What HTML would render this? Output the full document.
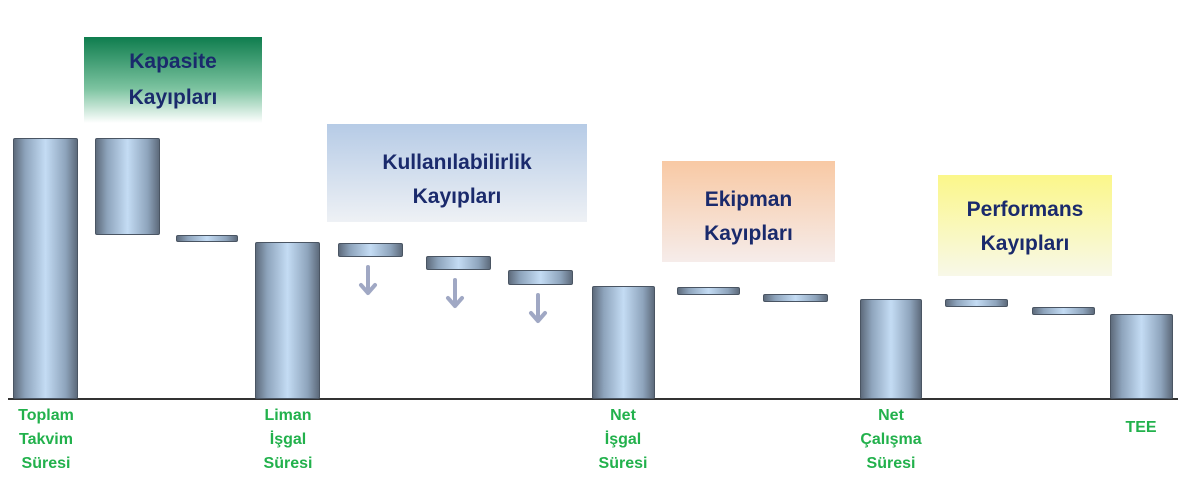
<!DOCTYPE html>
<html><head><meta charset="utf-8"><style>
body{margin:0;width:1200px;height:500px;background:#fff;position:relative;overflow:hidden;font-family:"Liberation Sans",sans-serif}
.b{position:absolute;background:linear-gradient(90deg,#5e6b7c 0%,#8ea4bc 18%,#c4dcf4 50%,#8ea4bc 82%,#5e6b7c 100%);border:1px solid #4a5563;box-sizing:border-box;border-radius:2px}
.box{position:absolute;text-align:center;color:#1a2a6c;font-weight:bold;font-size:21px;line-height:34px;box-sizing:border-box}
.lab{position:absolute;color:#22b14c;font-weight:bold;font-size:16px;line-height:24px;text-align:center;width:100px}
.arw{position:absolute;width:20px;height:32px}
</style></head><body>
<div class="box" style="left:84px;top:37px;width:178px;height:86px;background:linear-gradient(#0f7d4e,#7cc3a0 60%,#fff);padding-top:7px;line-height:36px">Kapasite<br>Kayıpları</div>
<div class="box" style="left:327px;top:124px;width:260px;height:98px;background:linear-gradient(#b6cbe6,#eef1f5);padding-top:22px">Kullanılabilirlik<br>Kayıpları</div>
<div class="box" style="left:662px;top:161px;width:173px;height:101px;background:linear-gradient(#f8c9a4,#f6ecea);padding-top:22px">Ekipman<br>Kayıpları</div>
<div class="box" style="left:938px;top:175px;width:174px;height:101px;background:linear-gradient(#fbf78a,#f8f8e8);padding-top:18px">Performans<br>Kayıpları</div>

<div style="position:absolute;left:8px;top:398px;width:1170px;height:2px;background:#333"></div>

<div class="b" style="left:13px;top:138px;width:65px;height:261px"></div>
<div class="b" style="left:95px;top:138px;width:65px;height:97px"></div>
<div class="b" style="left:176px;top:235px;width:62px;height:7px"></div>
<div class="b" style="left:255px;top:242px;width:65px;height:157px"></div>
<div class="b" style="left:338px;top:243px;width:65px;height:14px"></div>
<div class="b" style="left:426px;top:256px;width:65px;height:14px"></div>
<div class="b" style="left:508px;top:270px;width:65px;height:15px"></div>
<div class="b" style="left:592px;top:286px;width:63px;height:113px"></div>
<div class="b" style="left:677px;top:287px;width:63px;height:8px"></div>
<div class="b" style="left:763px;top:294px;width:65px;height:8px"></div>
<div class="b" style="left:860px;top:299px;width:62px;height:100px"></div>
<div class="b" style="left:945px;top:299px;width:63px;height:8px"></div>
<div class="b" style="left:1032px;top:307px;width:63px;height:8px"></div>
<div class="b" style="left:1110px;top:314px;width:63px;height:85px"></div>

<svg class="arw" style="left:358px;top:265px" viewBox="0 0 20 32"><path d="M10 2V28M3 20L10 28L17 20" stroke="#a0a8c4" stroke-width="4" fill="none" stroke-linecap="round" stroke-linejoin="round"/></svg>
<svg class="arw" style="left:445px;top:278px" viewBox="0 0 20 32"><path d="M10 2V28M3 20L10 28L17 20" stroke="#a0a8c4" stroke-width="4" fill="none" stroke-linecap="round" stroke-linejoin="round"/></svg>
<svg class="arw" style="left:528px;top:293px" viewBox="0 0 20 32"><path d="M10 2V28M3 20L10 28L17 20" stroke="#a0a8c4" stroke-width="4" fill="none" stroke-linecap="round" stroke-linejoin="round"/></svg>

<div class="lab" style="left:-4px;top:404px">Toplam<br>Takvim<br>Süresi</div>
<div class="lab" style="left:238px;top:404px">Liman<br>İşgal<br>Süresi</div>
<div class="lab" style="left:573px;top:404px">Net<br>İşgal<br>Süresi</div>
<div class="lab" style="left:841px;top:404px">Net<br>Çalışma<br>Süresi</div>
<div class="lab" style="left:1091px;top:416px">TEE</div>
</body></html>
